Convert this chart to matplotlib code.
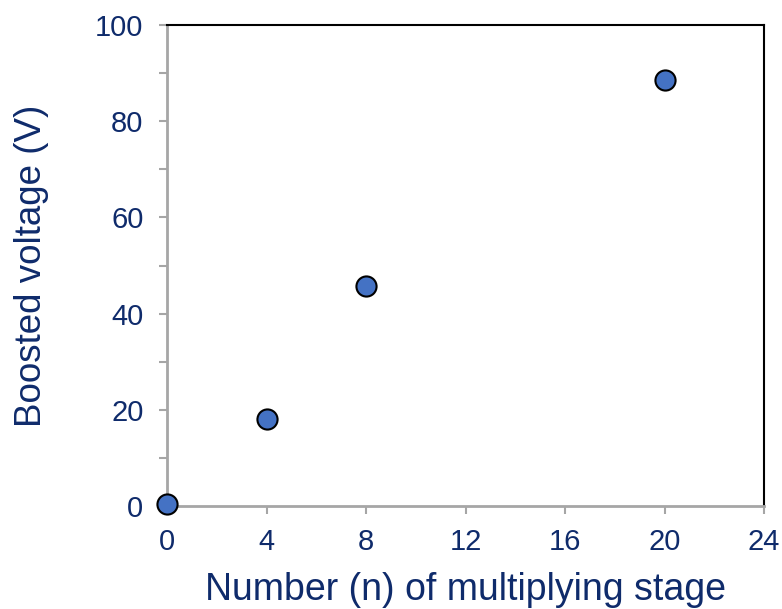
import matplotlib
matplotlib.use("Agg")
import matplotlib.pyplot as plt
from matplotlib.ticker import MultipleLocator

stages = [0, 4, 8, 20]
voltage = [0.4, 18.1, 45.7, 88.6]

txt = "#0F2B6B"
plt.rcParams['font.family'] = ['Liberation Sans', 'DejaVu Sans']

fig = plt.figure(figsize=(7.82, 6.09), dpi=100)
ax = fig.add_axes([167/782, 1-506/609, (764-167)/782, (506-25)/609])
ax.plot(stages, voltage, linestyle='none', marker='o', markersize=14.5,
        markerfacecolor='#4472C4', markeredgecolor='black', markeredgewidth=1.5,
        clip_on=False, zorder=5)
ax.set_xlim(0, 24)
ax.set_ylim(0, 100)
ax.xaxis.set_major_locator(MultipleLocator(4))
ax.yaxis.set_major_locator(MultipleLocator(20))
ax.yaxis.set_minor_locator(MultipleLocator(10))
for s in ['left', 'bottom']:
    ax.spines[s].set_color('#A6A6A6')
    ax.spines[s].set_linewidth(2)
for s in ['top', 'right']:
    ax.spines[s].set_color('black')
    ax.spines[s].set_linewidth(1.5)
ax.tick_params(axis='both', which='both', direction='out', color='#A6A6A6',
               width=1.5, labelcolor=txt, labelsize=21, length=6)
ax.tick_params(axis='y', which='major', pad=11)
ax.tick_params(axis='x', which='major', pad=10)
ax.set_xlabel("Number (n) of multiplying stage", fontsize=27, color=txt, labelpad=11)
ax.set_ylabel("Boosted voltage (V)", fontsize=26.5, color=txt, labelpad=33)
fig.savefig("out.png", dpi=100)
